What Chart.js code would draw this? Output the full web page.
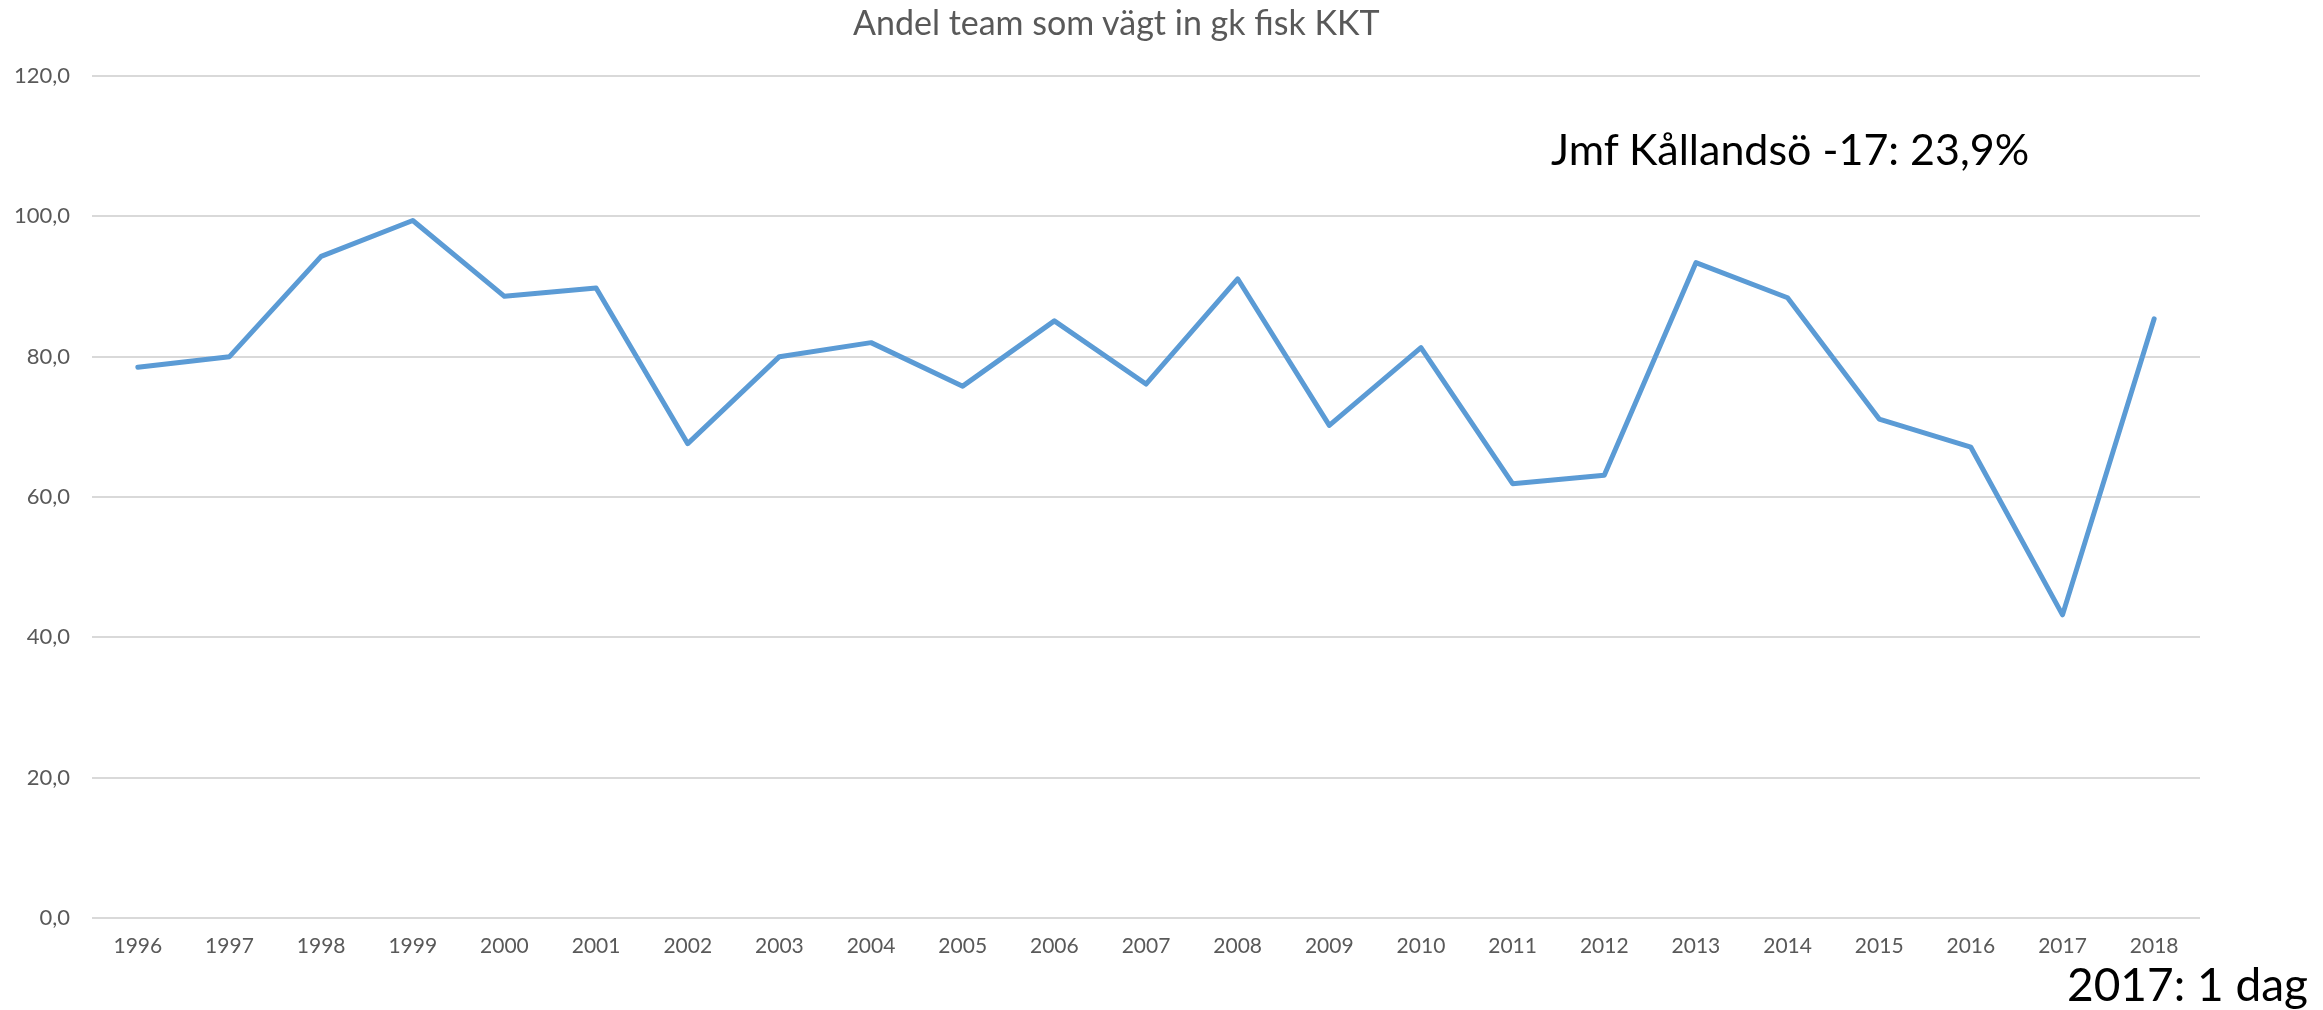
<!DOCTYPE html>
<html>
<head>
<meta charset="utf-8">
<script src="https://cdn.jsdelivr.net/npm/chart.js@4/dist/chart.umd.min.js"></script>
<style>
  html, body { margin: 0; padding: 0; background: #ffffff; overflow: hidden; }
  #wrap { position: relative; width: 2323px; height: 1010px; }
  canvas { position: absolute; left: 0; top: 0; }
  .txt { position: absolute; line-height: 1; white-space: nowrap; font-family: Lato, "Open Sans", sans-serif; }
  #title { left: 853px; top: 5px; font-size: 34px; color: #595959; }
  #note1 { left: 1551px; top: 127px; font-size: 43px; color: #000000; }
  #note2 { left: 2067px; top: 961px; font-size: 46px; color: #000000; }
</style>
</head>
<body>
<div id="wrap">
  <canvas id="c" width="2323" height="1010"></canvas>
  <div class="txt" id="title">Andel team som vägt in gk fisk KKT</div>
  <div class="txt" id="note1">Jmf Kållandsö -17: 23,9%</div>
  <div class="txt" id="note2">2017: 1 dag</div>
</div>
<script>
const years = ["1996","1997","1998","1999","2000","2001","2002","2003","2004","2005","2006","2007","2008","2009","2010","2011","2012","2013","2014","2015","2016","2017","2018"];
const andel = [78.5, 80.0, 94.3, 99.4, 88.6, 89.8, 67.6, 80.0, 82.0, 75.8, 85.1, 76.1, 91.1, 70.2, 81.3, 61.9, 63.1, 93.4, 88.4, 71.1, 67.1, 43.2, 85.4];
const yTicks = [0, 20, 40, 60, 80, 100, 120];

new Chart(document.getElementById('c'), {
  type: 'line',
  data: {
    labels: years,
    datasets: [{
      label: 'Andel',
      data: andel,
      borderColor: '#5b9bd5',
      backgroundColor: '#5b9bd5',
      borderWidth: 5,
      tension: 0,
      pointRadius: 0,
      pointHoverRadius: 0,
      borderCapStyle: 'round',
      borderJoinStyle: 'round',
      fill: false
    }]
  },
  options: {
    responsive: false,
    animation: false,
    devicePixelRatio: 1,
    layout: { padding: { left: 0, right: 123, top: 76, bottom: 0 } },
    plugins: { legend: { display: false }, title: { display: false }, tooltip: { enabled: false } },
    scales: {
      x: {
        offset: true,
        grid: { display: false, drawTicks: false },
        border: { display: false },
        ticks: { color: '#595959', font: { family: 'Lato', size: 21 }, padding: 16, maxRotation: 0, autoSkip: false },
        afterFit: (s) => { s.height = 92; }
      },
      y: {
        min: yTicks[0],
        max: yTicks[yTicks.length - 1],
        afterBuildTicks: (s) => { s.ticks = yTicks.map(v => ({ value: v })); },
        grid: { color: '#d9d9d9', lineWidth: 2, drawTicks: false },
        border: { display: false },
        ticks: {
          color: '#595959', font: { family: 'Lato', size: 22 }, padding: 22,
          callback: (v) => Number(v).toFixed(1).replace('.', ',')
        },
        afterFit: (s) => { s.width = 92; }
      }
    }
  }
});
</script>
</body>
</html>
